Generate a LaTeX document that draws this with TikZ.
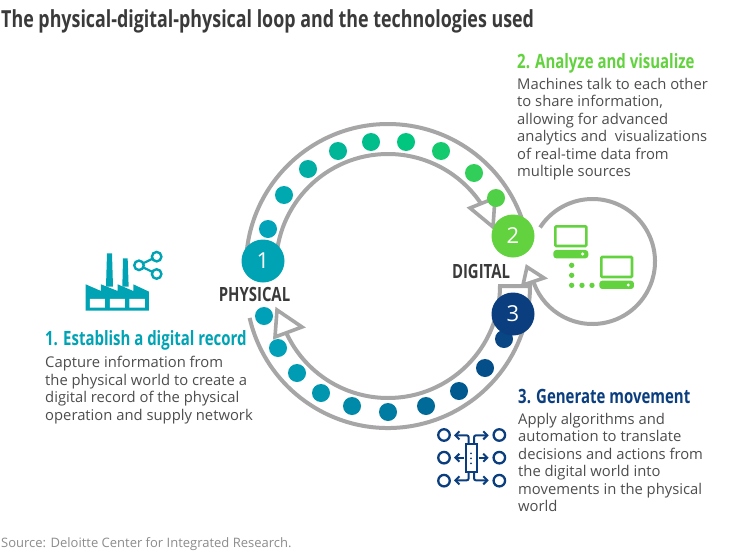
\documentclass[tikz,border=0pt]{standalone}
\usepackage{fontspec}
\setmainfont{Open Sans}
\newfontfamily\condf[FakeStretch=0.76]{Open Sans}
\usetikzlibrary{arrows.meta}
\definecolor{ringgrey}{HTML}{A6A6A6}
\definecolor{tealc}{HTML}{00A3B4}
\definecolor{greenc}{HTML}{62D23E}
\definecolor{navyc}{HTML}{0B3E7F}
\definecolor{bodyc}{HTML}{4D4D4D}
\definecolor{darkc}{HTML}{3A3A3A}
\definecolor{srcc}{HTML}{8C8C8C}
\definecolor{uA}{HTML}{00A3B8}
\definecolor{uB}{HTML}{00A8B0}
\definecolor{uC}{HTML}{00AEA4}
\definecolor{uD}{HTML}{00B696}
\definecolor{uE}{HTML}{00BE8C}
\definecolor{uF}{HTML}{00C680}
\definecolor{uG}{HTML}{14CA6E}
\definecolor{uH}{HTML}{32CE5A}
\definecolor{uI}{HTML}{50D046}
\definecolor{dA}{HTML}{00A0B8}
\definecolor{dB}{HTML}{00A0B8}
\definecolor{dC}{HTML}{009CB4}
\definecolor{dD}{HTML}{0096B0}
\definecolor{dE}{HTML}{008AAA}
\definecolor{dF}{HTML}{007CA2}
\definecolor{dG}{HTML}{006A98}
\definecolor{dH}{HTML}{005A90}
\definecolor{dI}{HTML}{044E8A}
\definecolor{dJ}{HTML}{084684}
\tikzset{
  ring/.style={draw=ringgrey,line width=4pt,line cap=butt},
  tip/.style={draw=ringgrey,line width=3.6pt,fill=white,line join=miter},
  bigdot/.style={circle,fill=#1,minimum size=18pt,inner sep=0pt},
  stage/.style={circle,fill=#1,minimum size=43pt,inner sep=0pt,text=white,font=\fontsize{22}{24}\selectfont},
  headtxt/.style={anchor=north west,inner sep=0pt,font=\condf\bfseries\fontsize{19.7}{22}\selectfont,text=#1},
  bodytxt/.style={anchor=north west,inner sep=0pt,align=left,text=bodyc,font=\fontsize{14.8}{17.5}\selectfont},
  sidetxt/.style={inner sep=0pt,text=darkc,font=\condf\bfseries\fontsize{19.6}{21}\selectfont},
  iconline/.style={draw=navyc,line width=2.1pt},
  iconarrow/.style={draw=navyc,line width=2pt,-{Straight Barb[length=4pt,width=8pt]},rounded corners=2pt},
  hollow/.style={circle,draw=navyc,line width=2.3pt,fill=white,minimum size=11.5pt,inner sep=0pt},
  shareknob/.style={circle,draw=tealc,line width=2.4pt,fill=white,minimum size=9.5pt,inner sep=0pt},
}
\begin{document}
\begin{tikzpicture}[x=1pt,y=1pt]
\useasboundingbox[fill=white] (0,-554) rectangle (744,0);
\coordinate (uc) at (388,-266);
\coordinate (lc) at (388,-286);
\coordinate (sc) at (592.5,-261.5);

% upper ring
\draw[ring] ([shift={(180:142)}]uc) arc (180:18:142);
\draw[ring] ([shift={(180:112)}]uc) arc (180:33:112);
\draw[tip] (470,-208) -- (495,-198) -- (493,-227) -- cycle;
% lower ring
\draw[ring] ([shift={(-167:142)}]lc) arc (-167:0:142) -- ([shift={(0:112)}]lc) arc (0:-155:112);
\draw[tip] (277,-310) -- (302,-327) -- (275,-337) -- cycle;
% small ring
\draw[ring] ([shift={(147:62.5)}]sc) arc (147:-165:62.5);
\draw[tip] (527,-267) -- (544,-278) -- (523,-285) -- cycle;

% dots upper
\node[bigdot=uA] (u1) at (268,-229) {};
\node[bigdot=uB] (u2) at (284,-195) {};
\node[bigdot=uC] (u3) at (308,-169) {};
\node[bigdot=uD] (u4) at (338,-151) {};
\node[bigdot=uE] (u5) at (371,-142) {};
\node[bigdot=uF] (u6) at (406,-142) {};
\node[bigdot=uG] (u7) at (441,-151) {};
\node[bigdot=uH] (u8) at (474,-173) {};
\node[bigdot=uI] (u9) at (496,-198) {};
% dots lower
\node[bigdot=dA] (d1) at (264,-316) {};
\node[bigdot=dB] (d2) at (278,-348) {};
\node[bigdot=dC] (d3) at (297,-373) {};
\node[bigdot=dD] (d4) at (321,-393) {};
\node[bigdot=dE] (d5) at (352,-406) {};
\node[bigdot=dF] (d6) at (388,-412) {};
\node[bigdot=dG] (d7) at (426,-406) {};
\node[bigdot=dH] (d8) at (459,-391) {};
\node[bigdot=dI] (d9) at (485,-368) {};
\node[bigdot=dJ] (d10) at (504,-339) {};

% stages
\node[stage=tealc] (s1) at (263,-261) {1};
\node[stage=greenc] (s2) at (513,-236) {2};
\node[stage=navyc] (s3) at (513,-314) {3};
\node[sidetxt,anchor=center] (phys) at (254.5,-294.5) {PHYSICAL};
\node[sidetxt,anchor=center] (digi) at (481,-271) {DIGITAL};

% texts
\node[anchor=north west,inner sep=0pt,text=darkc,font=\condf\bfseries\fontsize{23.5}{26}\selectfont] (title) at (1,-9) {The physical-digital-physical loop and the technologies used};
\node[headtxt=tealc] (h1) at (45,-330) {1. Establish a digital record};
\node[bodytxt] (b1) at (45,-356) {Capture information from\\the physical world to create a\\digital record of the physical\\operation and supply network};
\node[headtxt=greenc] (h2) at (517,-53) {2. Analyze and visualize};
\node[bodytxt] (b2) at (517,-78) {Machines talk to each other\\to share information,\\allowing for advanced\\analytics and\ \ visualizations\\of real-time data from\\multiple sources};
\node[headtxt=navyc] (h3) at (518,-389) {3. Generate movement};
\node[bodytxt] (b3) at (518,-413) {Apply algorithms and\\automation to translate\\decisions and actions from\\the digital world into\\movements in the physical\\world};
\node[anchor=north west,inner sep=0pt,text=srcc,font=\fontsize{13}{15}\selectfont] (src) at (1,-537) {Source: Deloitte Center for Integrated Research.};

% factory icon
\begin{scope}[shift={(70,-240)},x=0.3333pt,y=-0.3333pt]
\fill[tealc] (47,133) -- (93,153) -- (93,133) -- (143,153) -- (143,133) -- (190,153) -- (190,133) -- (237,155) -- (237,212) -- (47,212) -- cycle;
\fill[tealc] (111,40) -- (126,40) -- (129,140) -- (108,140) -- cycle;
\fill[tealc] (159,55) -- (173,55) -- (176,140) -- (157,140) -- cycle;
\fill[white] (60,177) rectangle (105,203) (120,177) rectangle (165,203) (178,177) rectangle (225,203);
\draw[tealc,line width=2.2pt] (260,50) -- (207,76) -- (260,102);
\node[shareknob] (sa) at (260,50) {};
\node[shareknob] (sb) at (260,102) {};
\node[shareknob] (sc2) at (207,76) {};
\end{scope}

% computers icon
\begin{scope}[shift={(440,-170)},x=0.3333pt,y=-0.3333pt]
\draw[greenc,line width=2.6pt,rounded corners=1pt] (346,169) rectangle (439,228);
\fill[greenc,rounded corners=3pt] (340,240) rectangle (445,265);
\fill[white] (428,252) circle [radius=5];
\draw[greenc,line width=2.6pt,rounded corners=1pt] (484,261) rectangle (576,321);
\fill[greenc,rounded corners=3pt] (478,332) rectangle (582,357);
\fill[white] (565,345) circle [radius=5];
\foreach \p in {(395,286),(395,316),(395,346),(426,346),(456,346)} \fill[greenc] \p circle [radius=8];
\end{scope}

% movement icon
\begin{scope}[shift={(430,-420)},x=0.3333pt,y=-0.3333pt]
\node[hollow] (c1) at (42,45) {};
\node[hollow] (c2) at (42,113) {};
\node[hollow] (c3) at (42,182) {};
\node[hollow] (c4) at (208,45) {};
\node[hollow] (c5) at (208,113) {};
\node[hollow] (c6) at (208,182) {};
\draw[iconline] (107,72) rectangle (140,155);
\foreach \y in {100,115,130} \fill[navyc] (123,\y) circle [radius=3];
\draw[iconarrow] (116,70) -- (116,46) -- (72,46);
\draw[iconarrow] (132,70) -- (132,46) -- (176,46);
\draw[iconarrow] (102,113) -- (72,113);
\draw[iconarrow] (146,113) -- (176,113);
\draw[iconarrow] (116,157) -- (116,181) -- (72,181);
\draw[iconarrow] (132,157) -- (132,181) -- (176,181);
\end{scope}
\end{tikzpicture}
\end{document}
